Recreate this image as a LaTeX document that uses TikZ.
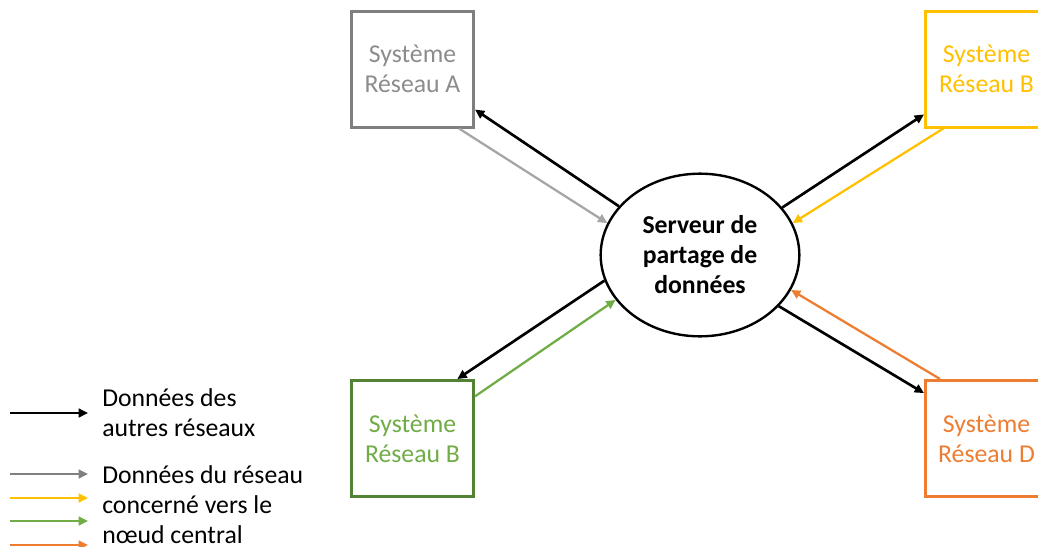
\documentclass[tikz,border=0pt]{standalone}
\usepackage{fontspec}
\setmainfont{Carlito}
\usetikzlibrary{arrows.meta,shapes.geometric}
\definecolor{grayBox}{HTML}{7F7F7F}
\definecolor{grayTxt}{HTML}{8C8C8C}
\definecolor{grayArr}{HTML}{A6A6A6}
\definecolor{legGray}{HTML}{808080}
\definecolor{yel}{HTML}{FFC000}
\definecolor{grnTxt}{HTML}{70AD47}
\definecolor{grnBox}{HTML}{548235}
\definecolor{org}{HTML}{ED7D31}
\tikzset{
  sysbox/.style={draw, line width=2.25pt, minimum width=91.5pt, minimum height=87pt,
    inner sep=0pt, align=center, font=\fontsize{19.3pt}{22.5pt}\selectfont, fill=white},
  server/.style={draw, ellipse, line width=1.8pt, minimum width=149pt, minimum height=122pt,
    inner sep=0pt, align=center, font=\bfseries\fontsize{19.3pt}{22.5pt}\selectfont},
  arr/.style={line width=1.7pt, -{Triangle[length=7pt,width=6.5pt]}},
  blackarr/.style={arr, line width=2pt, black},
  legtext/.style={anchor=west, inner sep=0pt, align=left, font=\fontsize{19.3pt}{22.5pt}\selectfont}
}
\begin{document}
\begin{tikzpicture}[x=0.75pt, y=-0.75pt]
\clip (0,0) rectangle (1038,546);
\fill[white] (0,0) rectangle (1038,546);
% nodes
\node[server] (srv) at (700,255) {Serveur de\\partage de\\données};
\node[sysbox, draw=grayBox, text=grayTxt] (A) at (412.5,69) {Système\\Réseau A};
\node[sysbox, draw=yel, text=yel] (B) at (986.5,69) {Système\\Réseau B};
\node[sysbox, draw=grnBox, text=grnTxt] (G) at (412.5,438.5) {Système\\Réseau B};
\node[sysbox, draw=org, text=org] (D) at (986.5,438.5) {Système\\Réseau D};
% connectors
\draw[blackarr] (srv.149.9) -- (A.-33.5);
\draw[arr, grayArr] (A.-52.4) -- (srv.161.9);
\draw[blackarr] (srv.30.8) -- (B.-144.9);
\draw[arr, yel] (B.-126.6) -- (srv.19.3);
\draw[blackarr] (srv.195.8) -- (G.53.1);
\draw[arr, grnTxt] (G.34.2) -- (srv.208.6);
\draw[arr, org] (D.128) -- (srv.-21.5);
\draw[blackarr] (srv.-33.4) -- (D.144.7);
% legend
\coordinate (l1a) at (10,413); \coordinate (l1b) at (88,413);
\coordinate (l2a) at (10,474); \coordinate (l2b) at (88,474);
\coordinate (l3a) at (10,498); \coordinate (l3b) at (88,498);
\coordinate (l4a) at (10,521); \coordinate (l4b) at (88,521);
\coordinate (l5a) at (10,545); \coordinate (l5b) at (88,545);
\draw[blackarr] (l1a) -- (l1b);
\draw[arr, legGray] (l2a) -- (l2b);
\draw[arr, yel] (l3a) -- (l3b);
\draw[arr, grnTxt] (l4a) -- (l4b);
\draw[arr, org] (l5a) -- (l5b);
\node[legtext] (t1) at (102,413) {Données des\\autres réseaux};
\node[legtext] (t2) at (102,505) {Données du réseau\\concerné vers le\\nœud central};
\end{tikzpicture}
\end{document}
